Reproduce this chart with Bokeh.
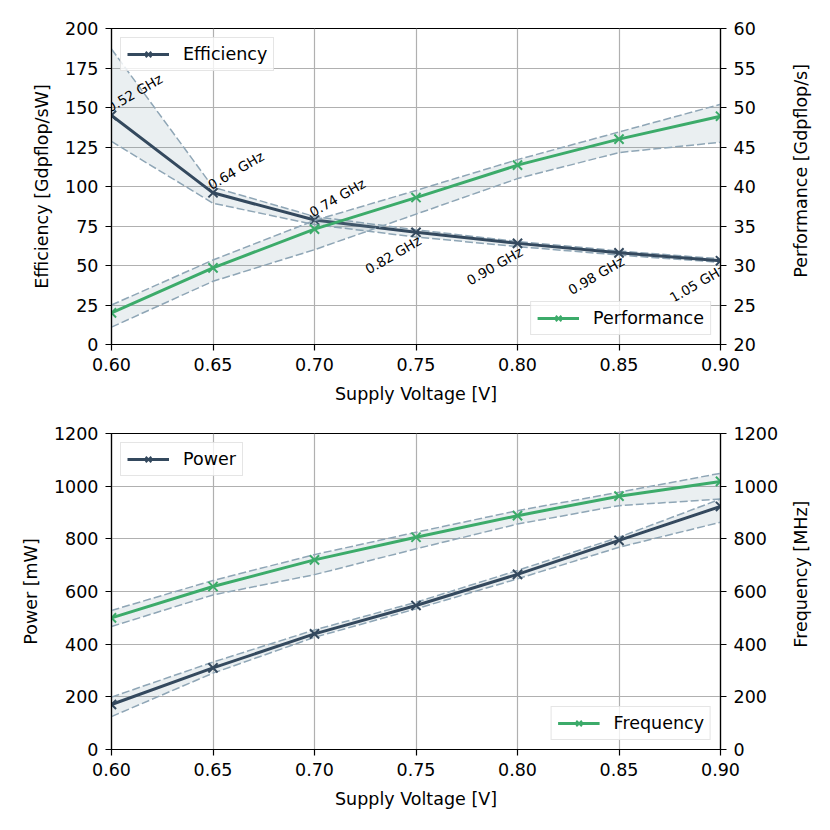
import math
from bokeh.plotting import figure
from bokeh.layouts import column, row
from bokeh.models import (Range1d, LinearAxis, FixedTicker, Legend, LegendItem,
                          NumeralTickFormatter)
from bokeh.core.properties import value
from bokeh.embed import file_html
from bokeh.resources import INLINE

# ---------------- data ----------------
voltage = [0.60, 0.65, 0.70, 0.75, 0.80, 0.85, 0.90]

efficiency = [145.0, 96.0, 78.8, 71.0, 64.0, 58.0, 53.0]
efficiency_hi = [187.0, 99.6, 81.0, 72.6, 65.2, 59.2, 54.2]
efficiency_lo = [128.5, 89.4, 75.9, 68.0, 62.0, 56.6, 52.0]

performance = [24.0, 29.7, 34.6, 38.6, 42.7, 46.0, 48.9]
performance_hi = [25.0, 30.7, 35.7, 39.5, 43.4, 46.9, 50.4]
performance_lo = [22.2, 28.0, 32.0, 36.5, 41.0, 44.3, 45.6]

power = [171, 310, 439, 547, 665, 794, 923]
power_hi = [199, 332, 454, 559, 680, 806, 951]
power_lo = [125, 290, 426, 534, 648, 768, 863]

frequency = [500, 619, 720, 806, 888, 962, 1018]
frequency_hi = [528, 642, 740, 825, 907, 977, 1049]
frequency_lo = [467, 587, 664, 762, 856, 926, 951]

freq_labels = ["0.52 GHz", "0.64 GHz", "0.74 GHz", "0.82 GHz",
               "0.90 GHz", "0.98 GHz", "1.05 GHz"]

x_ticks = [0.60, 0.65, 0.70, 0.75, 0.80, 0.85, 0.90]
eff_ticks = [0, 25, 50, 75, 100, 125, 150, 175, 200]
perf_ticks = [20, 25, 30, 35, 40, 45, 50, 55, 60]
pow_ticks = [0, 200, 400, 600, 800, 1000, 1200]

# ---------------- style ----------------
DARK = "#34495e"
GREEN = "#3cab6a"
BAND = "#7a9aa8"
EDGE = "#8fa6b6"
FONT = "DejaVu Sans"
FS = "17.5px"
MAIN_W = 784
SIDE_W = 46


def style_axis(ax):
    ax.axis_line_color = "black"
    ax.axis_line_width = 1.2
    ax.major_tick_line_color = "black"
    ax.major_tick_line_width = 1.2
    ax.major_tick_out = 6
    ax.major_tick_in = 0
    ax.minor_tick_line_color = None
    ax.major_label_text_font = FONT
    ax.major_label_text_font_size = FS
    ax.major_label_text_color = "black"
    ax.axis_label_text_font = FONT
    ax.axis_label_text_font_size = FS
    ax.axis_label_text_font_style = "normal"
    ax.axis_label_text_color = "black"
    ax.major_label_standoff = 7
    ax.axis_label_standoff = 10


def make_fig(height, yr, top_border, bottom_border):
    p = figure(width=MAIN_W, height=height, x_range=Range1d(0.6, 0.9), y_range=yr,
               output_backend="svg", toolbar_location=None,
               min_border_left=111, min_border_right=MAIN_W - 111 - 609,
               min_border_top=top_border, min_border_bottom=bottom_border)
    p.outline_line_color = "black"
    p.outline_line_width = 1.2
    p.xgrid.grid_line_color = "#b0b0b0"
    p.ygrid.grid_line_color = "#b0b0b0"
    p.xgrid.grid_line_width = 1.2
    p.ygrid.grid_line_width = 1.2
    p.xaxis.ticker = FixedTicker(ticks=x_ticks)
    p.xaxis.formatter = NumeralTickFormatter(format="0.00")
    p.xaxis.axis_label = "Supply Voltage [V]"
    style_axis(p.xaxis[0])
    style_axis(p.yaxis[0])
    return p


def side_label(height, center_from_top, text):
    s = figure(width=SIDE_W, height=height, x_range=Range1d(0, SIDE_W),
               y_range=Range1d(0, height), output_backend="svg",
               toolbar_location=None, x_axis_location=None, y_axis_location=None,
               min_border=0)
    s.outline_line_color = None
    s.xgrid.grid_line_color = None
    s.ygrid.grid_line_color = None
    s.text(x=[16], y=[height - center_from_top], text=[text], angle=math.pi / 2,
           text_align="center", text_baseline="middle", text_font=value(FONT),
           text_font_size=FS, text_color="black")
    return s


def band_series(p, x, y, lo, hi, color, y_range_name="default"):
    p.varea(x=x, y1=lo, y2=hi, fill_color=BAND, fill_alpha=0.16,
            y_range_name=y_range_name)
    p.line(x, hi, line_color=EDGE, line_width=1.5, line_dash="8 3",
           y_range_name=y_range_name)
    p.line(x, lo, line_color=EDGE, line_width=1.5, line_dash="8 3",
           y_range_name=y_range_name)
    ln = p.line(x, y, line_color=color, line_width=3, y_range_name=y_range_name)
    sc = p.scatter(x, y, marker="x", size=13, line_color=color, line_width=2,
                   y_range_name=y_range_name)
    return ln, sc


def make_legend(label, renderers, location):
    lg = Legend(items=[LegendItem(label=label, renderers=renderers)],
                location=location)
    lg.label_text_font = FONT
    lg.label_text_font_size = FS
    lg.label_text_color = "black"
    lg.glyph_width = 42
    lg.glyph_height = 20
    lg.label_standoff = 14
    lg.padding = 6
    lg.margin = 9
    lg.border_line_color = "#cccccc"
    lg.border_line_width = 1.2
    lg.background_fill_alpha = 0.8
    return lg


# ---------------- top chart ----------------
p1 = make_fig(413, Range1d(0, 200), 28, 69)
p1.yaxis[0].axis_label = "Efficiency [Gdpflop/sW]"
p1.yaxis[0].ticker = FixedTicker(ticks=eff_ticks)
p1.extra_y_ranges = {"perf": Range1d(20, 60)}
ax_r1 = LinearAxis(y_range_name="perf", ticker=FixedTicker(ticks=perf_ticks))
style_axis(ax_r1)
p1.add_layout(ax_r1, "right")

e_ln, e_sc = band_series(p1, voltage, efficiency, efficiency_lo, efficiency_hi, DARK)
p1.text(x=voltage[:3], y=efficiency[:3], text=freq_labels[:3], angle=0.5236,
        text_align="left", text_baseline="bottom", text_font=value(FONT),
        text_font_size="13.5px", text_color="black")
p1.text(x=voltage[3:], y=efficiency[3:], text=freq_labels[3:], angle=0.5236,
        text_align="right", text_baseline="top", text_font=value(FONT),
        text_font_size="13.5px", text_color="black")
pf_ln, pf_sc = band_series(p1, voltage, performance, performance_lo, performance_hi,
                           GREEN, "perf")

p1.add_layout(make_legend("Efficiency", [e_ln, e_sc], "top_left"))
p1.add_layout(make_legend("Performance", [pf_ln, pf_sc], "bottom_right"))
s1 = side_label(413, 186, "Performance [Gdpflop/s]")

# ---------------- bottom chart ----------------
p2 = make_fig(400, Range1d(0, 1200), 20, 64)
p2.yaxis[0].axis_label = "Power [mW]"
p2.yaxis[0].ticker = FixedTicker(ticks=pow_ticks)
p2.extra_y_ranges = {"freq": Range1d(0, 1200)}
ax_r2 = LinearAxis(y_range_name="freq", ticker=FixedTicker(ticks=pow_ticks))
style_axis(ax_r2)
p2.add_layout(ax_r2, "right")

pw_ln, pw_sc = band_series(p2, voltage, power, power_lo, power_hi, DARK)
fr_ln, fr_sc = band_series(p2, voltage, frequency, frequency_lo, frequency_hi,
                           GREEN, "freq")

p2.add_layout(make_legend("Power", [pw_ln, pw_sc], "top_left"))
p2.add_layout(make_legend("Frequency", [fr_ln, fr_sc], "bottom_right"))
s2 = side_label(400, 178, "Frequency [MHz]")

layout = column(row(p1, s1), row(p2, s2))
open("out.html", "w").write(file_html(layout, INLINE))
